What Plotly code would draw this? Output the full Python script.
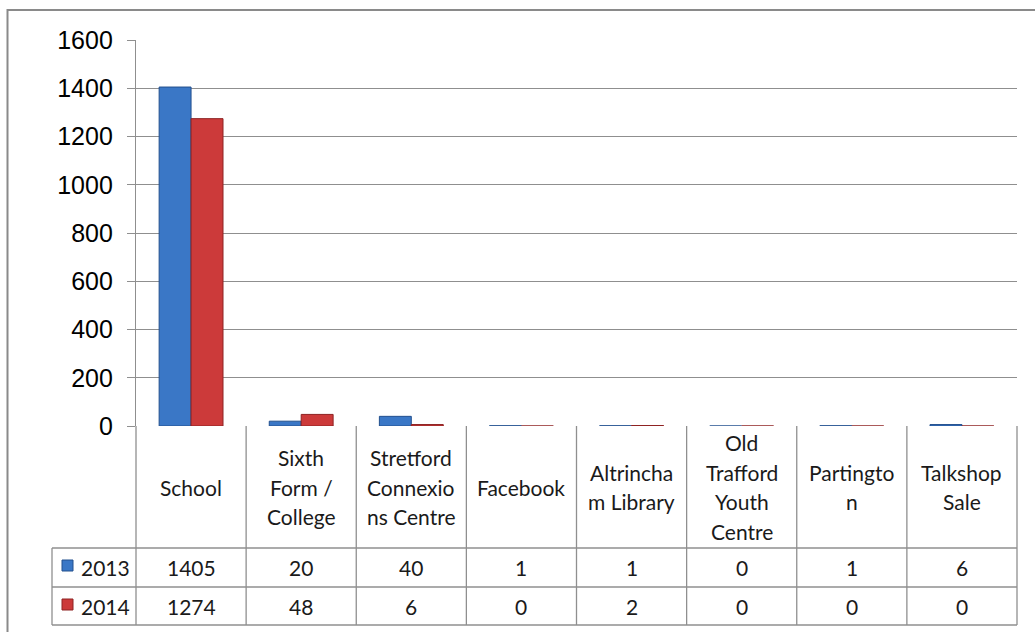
import plotly.graph_objects as go

# ---------------- data ----------------
categories = ["School", "Sixth Form / College", "Stretford Connexions Centre", "Facebook",
              "Altrincham Library", "Old Trafford Youth Centre", "Partington", "Talkshop Sale"]
header_lines = [["School"], ["Sixth", "Form /", "College"], ["Stretford", "Connexio", "ns Centre"],
                ["Facebook"], ["Altrincha", "m Library"], ["Old", "Trafford", "Youth", "Centre"],
                ["Partingto", "n"], ["Talkshop", "Sale"]]
values_2013 = [1405, 20, 40, 1, 1, 0, 1, 6]
values_2014 = [1274, 48, 6, 0, 2, 0, 0, 0]
series_names = ["2013", "2014"]
y_ticks = [0, 200, 400, 600, 800, 1000, 1200, 1400, 1600]

# ---------------- layout geometry ----------------
W, H = 1035, 632
L, R, T, B = 136, 18, 40, 206
PW, PH = W - L - R, H - T - B

def pyp(pix):  # pixel y -> paper y
    return (H - B - pix) / PH

def pxp(pix):  # pixel x -> paper x
    return (pix - L) / PW

blue, blue_dark = "#3A77C6", "#23508E"
red, red_dark = "#CC3A3A", "#8E2222"
grid = "#8f8f8f"
txt = "#1a1a1a"
tfont = dict(family="Lato, Calibri, sans-serif", size=21, color=txt)

fig = go.Figure()
fig.add_trace(go.Bar(x=categories, y=values_2013, name=series_names[0],
                     marker=dict(color=blue, line=dict(color=blue_dark, width=1))))
fig.add_trace(go.Bar(x=categories, y=values_2014, name=series_names[1],
                     marker=dict(color=red, line=dict(color=red_dark, width=1))))

n = len(categories)
shapes = []
line = dict(color=grid, width=1.3)
for k in range(n + 1):
    shapes.append(dict(type="line", xref="paper", yref="paper", x0=k / n, x1=k / n,
                       y0=0, y1=pyp(625), line=line))
for yy in [548, 587, 625]:
    shapes.append(dict(type="line", xref="paper", yref="paper", x0=pxp(52), x1=1,
                       y0=pyp(yy), y1=pyp(yy), line=line))
shapes.append(dict(type="line", xref="paper", yref="paper", x0=pxp(52), x1=pxp(52),
                   y0=pyp(548), y1=pyp(625), line=line))
for (ya, yb), c, cl in [((560, 571), blue, blue_dark), ((599, 610), red, red_dark)]:
    shapes.append(dict(type="rect", xref="paper", yref="paper", x0=pxp(62), x1=pxp(73),
                       y0=pyp(yb), y1=pyp(ya), fillcolor=c, line=dict(color=cl, width=1)))
shapes.append(dict(type="rect", xref="paper", yref="paper", x0=pxp(7.5), x1=pxp(1060),
                   y0=pyp(660), y1=pyp(10), line=dict(color="#8a8a8a", width=2)))

annotations = []
LS = 29.7
for i in range(n):
    lines = header_lines[i]
    for j, t in enumerate(lines):
        cy = 487 + (j - (len(lines) - 1) / 2) * LS
        annotations.append(dict(x=i, xref="x", y=pyp(cy), yref="paper", text=t,
                                showarrow=False, font=tfont, yanchor="middle", xanchor="center"))
    annotations.append(dict(x=i, xref="x", y=pyp(567.5), yref="paper", text=str(values_2013[i]),
                            showarrow=False, font=tfont, yanchor="middle", xanchor="center"))
    annotations.append(dict(x=i, xref="x", y=pyp(606), yref="paper", text=str(values_2014[i]),
                            showarrow=False, font=tfont, yanchor="middle", xanchor="center"))
for name, yy in zip(series_names, [567.5, 606]):
    annotations.append(dict(x=pxp(79), xref="paper", y=pyp(yy), yref="paper", text=name,
                            showarrow=False, font=tfont, yanchor="middle", xanchor="left"))

fig.update_layout(
    width=W, height=H,
    margin=dict(l=L, r=R, t=T, b=B, autoexpand=False),
    paper_bgcolor="white", plot_bgcolor="white",
    barmode="group", bargap=0.42, bargroupgap=0,
    showlegend=False,
    shapes=shapes, annotations=annotations,
    xaxis=dict(range=[-0.5, n - 0.5], showticklabels=False, showgrid=False,
               zeroline=False, showline=False, ticks=""),
    yaxis=dict(range=[0, 1600], tickvals=y_ticks, showgrid=True, gridcolor=grid, gridwidth=1.3,
               zeroline=False, showline=True, linecolor=grid, linewidth=1.3,
               ticks="outside", ticklen=8, tickcolor=grid, tickwidth=1.3,
               tickfont=dict(family="Liberation Sans, Arial, sans-serif", size=25, color="black"),
               ticklabelstandoff=9),
)

fig.write_html("out.html", config={"displayModeBar": False},
               post_script="document.body.style.margin='0';document.body.style.overflow='hidden';")
